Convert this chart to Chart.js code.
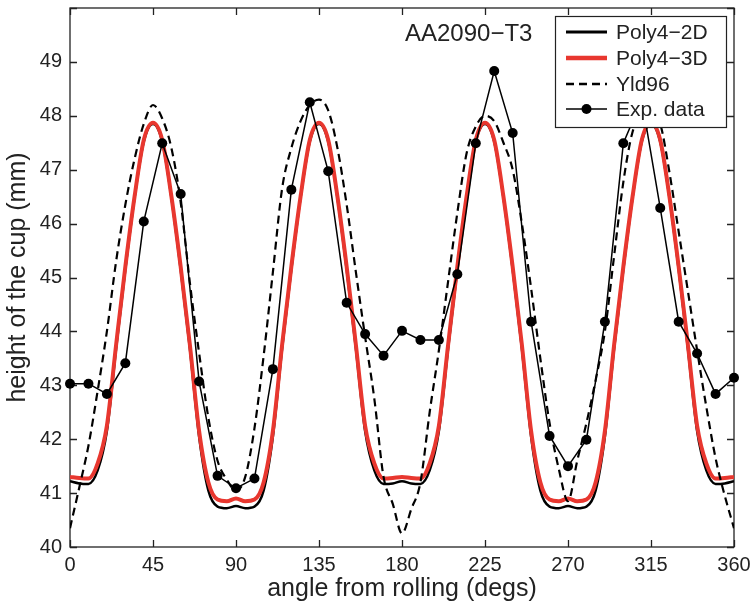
<!DOCTYPE html>
<html><head><meta charset="utf-8">
<script src="https://cdn.jsdelivr.net/npm/chart.js@4.4.1/dist/chart.umd.min.js"></script>
<style>html,body{margin:0;padding:0;background:#fff;}#c{display:block;}</style>
</head><body>
<canvas id="c" width="754" height="605"></canvas>
<script>
// ---- data ----
const angles = [0,5,10,15,20,25,30,35,40,45,50,55,60,65,70,75,80,85,90,
  95,100,105,110,115,120,125,130,135,140,145,150,155,160,165,170,175,180,
  185,190,195,200,205,210,215,220,225,230,235,240,245,250,255,260,265,270,
  275,280,285,290,295,300,305,310,315,320,325,330,335,340,345,350,355,360];

const poly4_2D = [41.22,41.18,41.17,41.42,42.15,43.68,45.15,46.48,47.52,47.85,47.52,46.48,45.15,43.68,42.05,41.05,40.75,40.72,40.76,
  40.72,40.75,41.05,42.05,43.68,45.15,46.48,47.52,47.85,47.52,46.48,45.15,43.68,42.15,41.42,41.17,41.18,41.22,
  41.18,41.17,41.42,42.15,43.68,45.15,46.48,47.52,47.85,47.52,46.48,45.15,43.68,42.05,41.05,40.75,40.72,40.76,
  40.72,40.75,41.05,42.05,43.68,45.15,46.48,47.52,47.85,47.52,46.48,45.15,43.68,42.15,41.42,41.17,41.18,41.22];

const poly4_3D = [41.30,41.28,41.27,41.55,42.25,43.75,45.20,46.50,47.55,47.87,47.55,46.50,45.20,43.75,42.15,41.20,40.88,40.85,40.90,
  40.85,40.88,41.20,42.15,43.75,45.20,46.50,47.55,47.87,47.55,46.50,45.20,43.75,42.25,41.55,41.27,41.28,41.30,
  41.28,41.27,41.55,42.25,43.75,45.20,46.50,47.55,47.87,47.55,46.50,45.20,43.75,42.15,41.20,40.88,40.85,40.90,
  40.85,40.88,41.20,42.15,43.75,45.20,46.50,47.55,47.87,47.55,46.50,45.20,43.75,42.25,41.55,41.27,41.28,41.30];

const yld96 = [40.35,41.1,41.88,42.9,44.0,45.3,46.35,47.2,47.85,48.2,47.95,47.4,46.4,44.9,43.6,42.4,41.6,41.25,41.05,
  41.3,42.2,43.55,45.1,46.65,47.4,47.9,48.2,48.3,48.1,47.4,46.35,45.1,43.9,42.75,41.3,40.8,40.25,
  40.7,41.2,42.5,43.65,44.93,46.2,47.3,47.8,48.0,47.9,47.5,47.0,46.0,44.8,43.5,42.3,41.45,40.85,
  41.6,42.3,43.1,44.0,45.4,46.77,47.7,48.0,48.05,47.85,46.95,45.85,44.75,43.65,42.6,41.65,40.95,40.35];

const expAngles = [0,10,20,30,40,50,60,70,80,90,100,110,120,130,140,150,160,170,180,
  190,200,210,220,230,240,250,260,270,280,290,300,310,320,330,340,350,360];
const expHeight = [43.03,43.03,42.84,43.41,46.04,47.49,46.55,43.07,41.32,41.09,41.27,43.30,46.63,48.25,46.97,44.53,43.95,43.55,44.01,
  43.84,43.84,45.06,47.49,48.83,47.68,44.18,42.06,41.50,41.99,44.18,47.49,48.30,46.29,44.18,43.59,42.84,43.14];

const xTickValues = [0,45,90,135,180,225,270,315,360];
const yTickValues = [40,41,42,43,44,45,46,47,48,49,50];
const legendLabels = ['Poly4\u22122D','Poly4\u22123D','Yld96','Exp. data'];
const annotationText = 'AA2090\u2212T3';

// ---- styling ----
const FONT = '"Liberation Sans", Arial, Helvetica, sans-serif';
const TXT = '#222';
const RED = '#e8372f';
const pts = (xs, ys) => xs.map((a, i) => ({x: a, y: ys[i]}));

const framePlugin = {
  id: 'frame',
  beforeDatasetsDraw(chart) {
    const {ctx, chartArea: a, scales: {x, y}} = chart;
    ctx.save();
    ctx.strokeStyle = '#222';
    ctx.lineWidth = 1.3;
    ctx.strokeRect(a.left, a.top, a.right - a.left, a.bottom - a.top);
    ctx.beginPath();
    xTickValues.forEach(v => {
      const p = Math.round(x.getPixelForValue(v)) + 0.5;
      ctx.moveTo(p, a.bottom); ctx.lineTo(p, a.bottom - 7);
      ctx.moveTo(p, a.top); ctx.lineTo(p, a.top + 7);
    });
    yTickValues.forEach(v => {
      const p = Math.round(y.getPixelForValue(v)) + 0.5;
      ctx.moveTo(a.left, p); ctx.lineTo(a.left + 7, p);
      ctx.moveTo(a.right, p); ctx.lineTo(a.right - 7, p);
    });
    ctx.stroke();
    ctx.restore();
  },
  afterDatasetsDraw(chart) {
    const {ctx} = chart;
    ctx.save();
    // annotation
    ctx.fillStyle = TXT;
    ctx.font = '24px ' + FONT;
    ctx.textBaseline = 'middle';
    ctx.textAlign = 'left';
    ctx.fillText(annotationText, 405, 34);
    // legend box
    const bx = 555, by = 16, bw = 171, bh = 111;
    ctx.fillStyle = '#fff';
    ctx.fillRect(bx, by, bw, bh);
    ctx.strokeStyle = '#222';
    ctx.lineWidth = 1.2;
    ctx.strokeRect(bx + 0.5, by + 0.5, bw, bh);
    const rows = [32, 58, 84, 109];
    const styles = [
      {c: '#000', w: 3, d: []},
      {c: RED, w: 4.5, d: []},
      {c: '#000', w: 2.5, d: [8, 5]},
      {c: '#000', w: 1.5, d: [], dot: true}
    ];
    rows.forEach((ry, i) => {
      const s = styles[i];
      ctx.beginPath();
      ctx.strokeStyle = s.c; ctx.lineWidth = s.w; ctx.setLineDash(s.d);
      ctx.moveTo(566, ry); ctx.lineTo(607, ry);
      ctx.stroke();
      ctx.setLineDash([]);
      if (s.dot) {
        ctx.beginPath(); ctx.fillStyle = '#000';
        ctx.arc(586.5, ry, 5, 0, Math.PI * 2); ctx.fill();
      }
      ctx.fillStyle = TXT;
      ctx.font = '21px ' + FONT;
      ctx.textBaseline = 'middle';
      ctx.fillText(legendLabels[i], 616, ry + 1);
    });
    ctx.restore();
  }
};

new Chart(document.getElementById('c'), {
  type: 'line',
  data: {
    datasets: [
      {label: legendLabels[3], data: pts(expAngles, expHeight), borderColor: '#000', backgroundColor: '#000',
       borderWidth: 1.5, pointRadius: 5, pointBackgroundColor: '#000', pointBorderColor: '#000', pointBorderWidth: 0,
       tension: 0, order: 0, clip: false},
      {label: legendLabels[2], data: pts(angles, yld96), borderColor: '#000', borderWidth: 2.2, borderDash: [8, 5],
       pointRadius: 0, cubicInterpolationMode: 'monotone', order: 1},
      {label: legendLabels[1], data: pts(angles, poly4_3D), borderColor: RED, borderWidth: 4,
       pointRadius: 0, cubicInterpolationMode: 'monotone', order: 2},
      {label: legendLabels[0], data: pts(angles, poly4_2D), borderColor: '#000', borderWidth: 2.5,
       pointRadius: 0, cubicInterpolationMode: 'monotone', order: 3}
    ]
  },
  options: {
    responsive: false, animation: false, devicePixelRatio: 1,
    layout: {padding: {top: 8, right: 20, left: 0, bottom: 0}},
    plugins: {legend: {display: false}, tooltip: {enabled: false}},
    scales: {
      x: {
        type: 'linear', min: 0, max: 360,
        afterBuildTicks(s) { s.ticks = xTickValues.map(v => ({value: v})); },
        ticks: {font: {size: 20, family: FONT}, color: TXT, padding: 6, autoSkip: false, maxRotation: 0},
        grid: {display: false, drawTicks: false}, border: {display: false},
        title: {display: true, text: 'angle from rolling (degs)', color: TXT, font: {size: 25, family: FONT}, padding: {top: 0, bottom: 1}},
        afterFit(s) { s.height = 58; s.paddingLeft = 0; s.paddingRight = 0; }
      },
      y: {
        type: 'linear', min: 40, max: 50,
        afterBuildTicks(s) { s.ticks = yTickValues.map(v => ({value: v})); },
        ticks: {font: {size: 20, family: FONT}, color: TXT, padding: 8, autoSkip: false,
                callback: v => (v === 50 ? '' : String(v))},
        grid: {display: false, drawTicks: false}, border: {display: false},
        title: {display: true, text: 'height of the cup (mm)', color: TXT, font: {size: 25, family: FONT}, padding: {top: 3, bottom: 0}},
        afterFit(s) { s.width = 70; s.paddingTop = 0; s.paddingBottom = 0; }
      }
    }
  },
  plugins: [framePlugin]
});
</script>
</body></html>
